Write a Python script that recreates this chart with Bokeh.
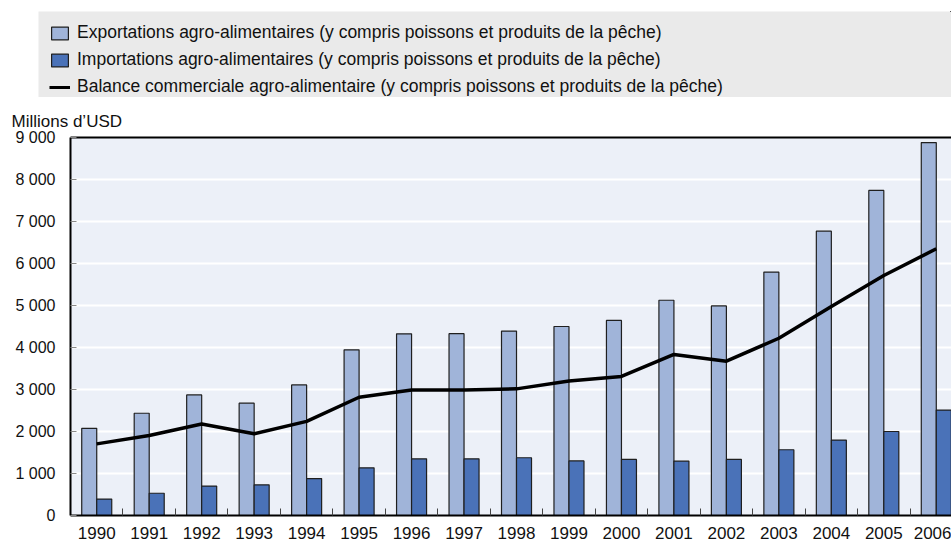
from bokeh.plotting import figure
from bokeh.models import (ColumnDataSource, FixedTicker, Range1d, Legend, LegendItem,
                          LinearAxis, Title)
from bokeh.transform import dodge
from bokeh.embed import file_html
from bokeh.resources import INLINE

years = [str(y) for y in range(1990, 2007)]
exports = [2075, 2435, 2870, 2675, 3110, 3945, 4325, 4330, 4390, 4500, 4645,
           5125, 4990, 5795, 6770, 7740, 8880]
imports = [390, 530, 700, 730, 880, 1135, 1350, 1350, 1375, 1300, 1335,
           1295, 1335, 1565, 1795, 2000, 2510]
balance = [1705, 1905, 2180, 1945, 2240, 2815, 2990, 2990, 3015, 3200, 3310,
           3835, 3675, 4220, 4975, 5715, 6350]
y_ticks = [0, 1000, 2000, 3000, 4000, 5000, 6000, 7000, 8000, 9000]
y_tick_labels = ["0", "1 000", "2 000", "3 000", "4 000", "5 000", "6 000",
                 "7 000", "8 000", "9 000"]
legend_labels = [
    "Exportations agro-alimentaires (y compris poissons et produits de la pêche)",
    "Importations agro-alimentaires (y compris poissons et produits de la pêche)",
    "Balance commerciale agro-alimentaire (y compris poissons et produits de la pêche)",
]

FONT = "Liberation Sans"
EXP_COLOR = "#A0B4D9"
IMP_COLOR = "#4A72B8"
OUTLINE = "#1f1f1f"
TEXT = "#111111"

idx = list(range(len(years)))
src = ColumnDataSource(dict(i=idx, year=years, exports=exports,
                            imports=imports, balance=balance))

# ---------------- legend strip (separate root, no frame alignment) -------------
lf = figure(width=951, height=97, x_range=Range1d(-100, -99), y_range=Range1d(-100, -99),
            output_backend="svg", toolbar_location=None,
            x_axis_location=None, y_axis_location=None,
            min_border_left=38, min_border_right=0, min_border_top=11,
            min_border_bottom=0)
lf.background_fill_color = "#EAEAEA"
lf.border_fill_color = "white"
lf.outline_line_color = None
lf.grid.visible = False
# the same series drawn outside the strip's visible range: only legend glyphs show
l1 = lf.vbar(x="i", top="exports", width=0.3, source=src,
             fill_color=EXP_COLOR, line_color=OUTLINE, line_width=1.2)
l2 = lf.vbar(x="i", top="imports", width=0.3, source=src,
             fill_color=IMP_COLOR, line_color=OUTLINE, line_width=1.2)
l3 = lf.line(x="i", y="balance", source=src, line_color="black", line_width=3)
leg = Legend(items=[LegendItem(label=legend_labels[0], renderers=[l1]),
                    LegendItem(label=legend_labels[1], renderers=[l2]),
                    LegendItem(label=legend_labels[2], renderers=[l3])],
             location=(11, 0), orientation="vertical",
             background_fill_alpha=0, border_line_color=None,
             padding=0, margin=0, spacing=6,
             glyph_width=21, glyph_height=16, label_standoff=7,
             label_height=20,
             label_text_font=FONT, label_text_font_size="17.5px",
             label_text_color=TEXT)
lf.add_layout(leg, "center")

# ---------------- main chart ----------------
p = figure(width=951, height=447,
           x_range=Range1d(-0.5, 16.29), y_range=Range1d(0, 9000),
           output_backend="svg", toolbar_location=None,
           min_border_left=70, min_border_right=0, min_border_top=40,
           min_border_bottom=29)
p.background_fill_color = "#ECF0F8"
p.border_fill_color = "white"
p.outline_line_color = None

p.vbar(x=dodge("i", -0.143, range=p.x_range), top="exports", width=0.286,
       source=src, fill_color=EXP_COLOR, line_color=OUTLINE, line_width=1.2)
p.vbar(x=dodge("i", 0.143, range=p.x_range), top="imports", width=0.286,
       source=src, fill_color=IMP_COLOR, line_color=OUTLINE, line_width=1.2)
p.line(x="i", y="balance", source=src, line_color="black", line_width=3.5)

p.xgrid.visible = False
p.ygrid.ticker = FixedTicker(ticks=y_ticks)
p.ygrid.grid_line_color = "white"
p.ygrid.grid_line_width = 2

p.yaxis.ticker = FixedTicker(ticks=y_ticks)
p.yaxis.major_label_overrides = {t: l for t, l in zip(y_ticks, y_tick_labels)}
p.yaxis.major_tick_in = 6
p.yaxis.major_tick_out = 0
p.yaxis.major_tick_line_color = "#888888"
p.yaxis.minor_tick_line_color = None
p.yaxis.axis_line_color = "black"
p.yaxis.axis_line_width = 2
p.yaxis.major_label_standoff = 15
p.yaxis.major_label_text_font = FONT
p.yaxis.major_label_text_font_size = "16px"
p.yaxis.major_label_text_color = TEXT

p.xaxis.ticker = FixedTicker(ticks=idx, minor_ticks=[i + 0.5 for i in idx])
p.xaxis.major_label_overrides = {i: y for i, y in zip(idx, years)}
p.xaxis.major_tick_in = 0
p.xaxis.major_tick_out = 0
p.xaxis.minor_tick_in = 7
p.xaxis.minor_tick_out = 0
p.xaxis.minor_tick_line_color = "#444444"
p.xaxis.minor_tick_line_width = 1
p.xaxis.axis_line_color = "black"
p.xaxis.axis_line_width = 2
p.xaxis.major_label_standoff = 11
p.xaxis.major_label_text_font = FONT
p.xaxis.major_label_text_font_size = "17px"
p.xaxis.major_label_text_color = TEXT

top_axis = LinearAxis(ticker=FixedTicker(ticks=[]), axis_line_color="black",
                      axis_line_width=2, major_tick_line_color=None,
                      minor_tick_line_color=None,
                      major_label_text_font_size="0px")
p.add_layout(top_axis, "above")

p.title = Title(text="Millions d\u2019USD", align="left", offset=-59,
                text_font=FONT, text_font_size="17px", text_font_style="normal",
                text_color=TEXT, standoff=14)

open("out.html", "w").write(file_html([lf, p], INLINE))
